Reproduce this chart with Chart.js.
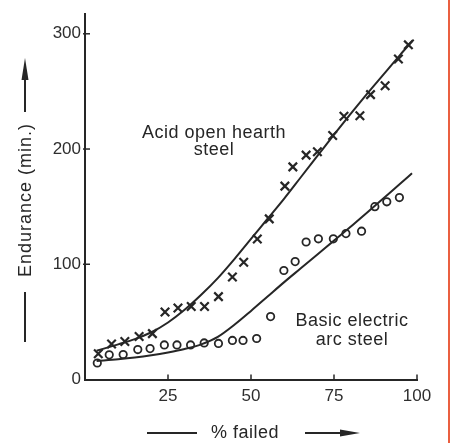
<!DOCTYPE html>
<html>
<head>
<meta charset="utf-8">
<script src="https://cdn.jsdelivr.net/npm/chart.js@4"></script>
<style>
  html, body { margin: 0; padding: 0; background: #fff; }
  #wrap { width: 451px; height: 443px; position: relative; }
</style>
</head>
<body>
<div id="wrap"><canvas id="chart" width="451" height="443"></canvas></div>
<script>
// measured points, acid open hearth steel (crosses)
const acidX = [4, 8, 12, 16.3, 20.3, 24.1, 28, 32, 36, 40.2, 44.4, 47.8, 51.9, 55.5, 60.2, 62.6, 66.6, 70, 74.6, 78, 82.8, 86, 90.4, 94.4, 97.4];
const acidY = [22.3, 30.8, 33, 37.3, 39.8, 58.6, 62, 63.4, 63.4, 71.9, 88.9, 101.7, 122, 139.4, 167.8, 184.5, 194.7, 197.6, 211.7, 228.5, 228.8, 247.2, 254.9, 278.1, 290.4];

// measured points, basic electric arc steel (circles)
const basicX = [3.7, 7.3, 11.5, 15.9, 19.6, 23.9, 27.7, 31.8, 35.9, 40.2, 44.4, 47.6, 51.7, 55.9, 59.9, 63.3, 66.6, 70.3, 74.8, 78.6, 83.3, 87.3, 90.9, 94.7];
const basicY = [14.3, 21.4, 21.7, 26, 26.8, 30, 30, 30, 31.7, 31.3, 33.9, 33.9, 35.6, 54.6, 94.6, 102.3, 119.3, 122.1, 122.1, 126.6, 128.7, 150, 154.2, 157.9];

// fitted curves
const acidFitX = [3.5, 10, 15, 20, 25, 30, 35, 40, 45, 50, 55, 60, 65, 70, 75, 80, 85, 90, 95, 99];
const acidFitY = [25, 30.5, 35, 41, 49.5, 60.5, 73.5, 88, 104.5, 122, 139.5, 157, 175.5, 194, 212.5, 230.5, 248, 265, 282, 295];
const basicFitX = [3.5, 10, 15, 20, 25, 30, 35, 40, 45, 50, 55, 60, 65, 70, 75, 80, 85, 90, 95, 98.5];
const basicFitY = [16, 17.5, 19, 21, 23.5, 26.5, 30.5, 37, 47.5, 59.5, 72, 84.5, 96.5, 108.5, 120.5, 132.5, 145, 157.5, 170, 179];

const xTicks = [25, 50, 75, 100];
const yTicks = [0, 100, 200, 300];

const ink = '#262626';
const fontFamily = "'Liberation Sans', Arial, Helvetica, sans-serif";

function toPoints(xs, ys) {
    return xs.map((x, i) => ({ x: x, y: ys[i] }));
}

// Inward tick marks, curve labels, axis titles with arrows
const decorations = {
    id: 'decorations',
    afterDraw(chart) {
        const ctx = chart.ctx;
        const xs = chart.scales.x;
        const ys = chart.scales.y;
        ctx.save();
        ctx.strokeStyle = ink;
        ctx.fillStyle = ink;
        ctx.lineWidth = 1.5;

        // tick marks pointing into the plot
        const y0 = ys.getPixelForValue(0);
        xTicks.forEach(v => {
            const px = xs.getPixelForValue(v);
            ctx.beginPath();
            ctx.moveTo(px, y0);
            ctx.lineTo(px, y0 - 5);
            ctx.stroke();
        });
        const x0 = xs.getPixelForValue(0);
        yTicks.slice(1).forEach(v => {
            const py = ys.getPixelForValue(v);
            ctx.beginPath();
            ctx.moveTo(x0 - 2, py);
            ctx.lineTo(x0 + 5, py);
            ctx.stroke();
        });

        // series labels
        ctx.font = '18px ' + fontFamily;
        ctx.letterSpacing = '0.5px';
        ctx.textAlign = 'center';
        ctx.textBaseline = 'alphabetic';
        ctx.fillText('Acid open hearth', 214, 138);
        ctx.fillText('steel', 214, 155);
        ctx.fillText('Basic electric', 352, 326);
        ctx.fillText('arc steel', 352, 345);

        // x title with arrow
        ctx.lineWidth = 2;
        ctx.fillText('% failed', 245, 438);
        ctx.beginPath();
        ctx.moveTo(147, 433);
        ctx.lineTo(197, 433);
        ctx.moveTo(305, 433);
        ctx.lineTo(345, 433);
        ctx.stroke();
        ctx.beginPath();
        ctx.moveTo(340, 429.5);
        ctx.lineTo(360, 433);
        ctx.lineTo(340, 436.5);
        ctx.closePath();
        ctx.fill();

        // y title with arrow
        ctx.save();
        ctx.translate(31, 200);
        ctx.rotate(-Math.PI / 2);
        ctx.letterSpacing = '1px';
        ctx.fillText('Endurance (min.)', 0, 0);
        ctx.restore();
        ctx.beginPath();
        ctx.moveTo(25, 292);
        ctx.lineTo(25, 342);
        ctx.moveTo(25, 112);
        ctx.lineTo(25, 75);
        ctx.stroke();
        ctx.beginPath();
        ctx.moveTo(21.5, 80);
        ctx.lineTo(25, 58);
        ctx.lineTo(28.5, 80);
        ctx.closePath();
        ctx.fill();

        // red margin line at the right edge of the scan
        ctx.fillStyle = '#ea5f40';
        ctx.fillRect(448, 0, 2, 443);
        ctx.restore();
    }
};

const whiteBg = {
    id: 'whiteBg',
    beforeDraw(chart) {
        const ctx = chart.ctx;
        ctx.save();
        ctx.fillStyle = '#fff';
        ctx.fillRect(0, 0, chart.width, chart.height);
        ctx.restore();
    }
};

new Chart(document.getElementById('chart'), {
    type: 'scatter',
    data: {
        datasets: [
            {
                label: 'Acid fit',
                data: toPoints(acidFitX, acidFitY),
                showLine: true,
                cubicInterpolationMode: 'monotone',
                borderColor: ink,
                borderWidth: 2,
                pointRadius: 0
            },
            {
                label: 'Basic fit',
                data: toPoints(basicFitX, basicFitY),
                showLine: true,
                cubicInterpolationMode: 'monotone',
                borderColor: ink,
                borderWidth: 2,
                pointRadius: 0
            },
            {
                label: 'Acid open hearth steel',
                data: toPoints(acidX, acidY),
                pointStyle: 'crossRot',
                pointRadius: 6,
                borderColor: ink,
                borderWidth: 2.2
            },
            {
                label: 'Basic electric arc steel',
                data: toPoints(basicX, basicY),
                pointStyle: 'circle',
                pointRadius: 3.7,
                borderColor: ink,
                backgroundColor: '#fff',
                borderWidth: 1.8
            }
        ]
    },
    options: {
        responsive: false,
        animation: false,
        clip: false,
        layout: { padding: { left: 0, right: 34, top: 7, bottom: 0 } },
        plugins: {
            legend: { display: false },
            tooltip: { enabled: false }
        },
        scales: {
            x: {
                type: 'linear',
                min: 0,
                max: 100,
                afterBuildTicks: axis => { axis.ticks = xTicks.map(v => ({ value: v })); },
                afterFit: scale => { scale.height = 63.5; },
                grid: { drawOnChartArea: false, drawTicks: false },
                border: { display: true, color: ink, width: 2 },
                ticks: {
                    padding: 7,
                    color: '#2e2e2e',
                    font: { family: fontFamily, size: 17 }
                }
            },
            y: {
                type: 'linear',
                min: 0,
                max: 317,
                afterBuildTicks: axis => { axis.ticks = yTicks.map(v => ({ value: v })); },
                afterFit: scale => { scale.width = 85; },
                grid: { drawOnChartArea: false, drawTicks: false },
                border: { display: true, color: ink, width: 2 },
                ticks: {
                    padding: 4,
                    color: '#2e2e2e',
                    font: { family: fontFamily, size: 17 }
                }
            }
        }
    },
    plugins: [whiteBg, decorations]
});
</script>
</body>
</html>
